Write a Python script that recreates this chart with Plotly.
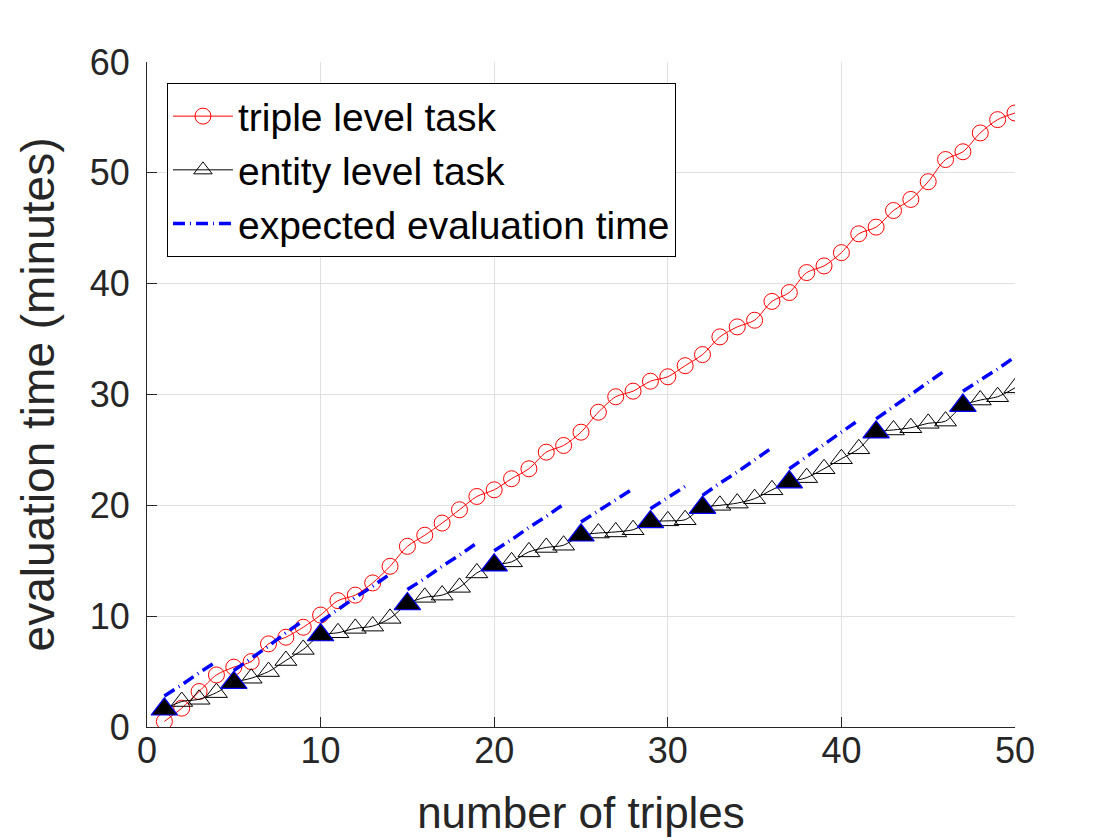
import plotly.graph_objects as go

# ---- data ----
triples = list(range(1, 51))
triple_level = [0.5, 1.7, 3.2, 4.7, 5.4, 5.9, 7.5, 8.1, 9.0, 10.1,
                11.4, 11.9, 13.0, 14.5, 16.3, 17.3, 18.4, 19.6, 20.8, 21.4,
                22.4, 23.3, 24.8, 25.4, 26.6, 28.4, 29.8, 30.3, 31.2, 31.6,
                32.6, 33.6, 35.2, 36.1, 36.7, 38.4, 39.2, 41.0, 41.6, 42.8,
                44.5, 45.1, 46.6, 47.6, 49.2, 51.2, 51.9, 53.6, 54.8, 55.4]
entity_level = [1.6, 2.3, 2.5, 3.1, 4.0, 4.4, 5.0, 6.0, 7.0, 8.3,
                8.5, 8.9, 9.1, 9.8, 11.1, 11.7, 11.9, 12.6, 13.9, 14.6,
                14.9, 15.8, 16.2, 16.4, 17.3, 17.5, 17.6, 17.8, 18.5, 18.6,
                18.7, 19.8, 20.0, 20.2, 20.6, 21.4, 22.1, 22.5, 23.3, 24.2,
                25.1, 26.6, 26.8, 27.0, 27.4, 27.6, 29.0, 29.5, 29.8, 30.6]
group_starts = [1, 5, 10, 15, 20, 25, 29, 32, 37, 42, 47]
expected_segments = [
    [2.8, 3.8, 4.9, 5.9],
    [5.1, 6.2, 7.3, 8.5, 9.6],
    [9.5, 10.6, 11.7, 12.7, 13.8],
    [12.4, 13.4, 14.5, 15.5, 16.6],
    [15.9, 16.9, 18.0, 19.0, 20.1],
    [18.5, 19.5, 20.5, 21.5],
    [19.7, 20.7, 21.7],
    [20.9, 22.0, 23.0, 24.1, 25.2],
    [23.3, 24.4, 25.5, 26.6, 27.7],
    [27.8, 28.9, 30.0, 31.1, 32.2],
    [30.3, 31.3, 32.3, 33.4],
]
x_ticks = [0, 10, 20, 30, 40, 50]
y_ticks = [0, 10, 20, 30, 40, 50, 60]

# build expected line with gaps
exp_x, exp_y = [], []
for s, seg in zip(group_starts, expected_segments):
    for i, v in enumerate(seg):
        exp_x.append(s + i)
        exp_y.append(v)
    exp_x.append(None)
    exp_y.append(None)

filled_y = [entity_level[s - 1] for s in group_starts]

FONT = "Liberation Sans, Arial, Helvetica, sans-serif"
TXT = "#262626"

fig = go.Figure()
fig.add_trace(go.Scatter(
    x=triples, y=triple_level, name="triple level task",
    mode="lines+markers",
    line=dict(color="red", width=1, shape="spline", smoothing=0.8),
    marker=dict(symbol="circle-open", size=16, color="red", line=dict(width=1, color="red")),
))
fig.add_trace(go.Scatter(
    x=triples, y=entity_level, name="entity level task",
    mode="lines+markers",
    line=dict(color="black", width=1, shape="spline", smoothing=0.8),
    marker=dict(symbol="triangle-up-open", size=19, color="black", line=dict(width=1, color="black")),
))
fig.add_trace(go.Scatter(
    x=exp_x, y=exp_y, name="expected evaluation time",
    mode="lines", connectgaps=False,
    line=dict(color="blue", width=3.5, dash="12px,5px,1px,5px"),
))
fig.add_trace(go.Scatter(
    x=group_starts, y=filled_y, mode="markers", showlegend=False,
    marker=dict(symbol="triangle-up", size=23, color="black", line=dict(width=1.2, color="blue")),
))

fig.update_layout(
    width=1120, height=840,
    margin=dict(l=139, r=113, t=54, b=121),
    paper_bgcolor="white", plot_bgcolor="white",
    font=dict(family=FONT, color=TXT, size=36),
    showlegend=True,
    legend=dict(
        x=0.023, y=0.968, xanchor="left", yanchor="top",
        bgcolor="white", bordercolor="black", borderwidth=1,
        font=dict(family=FONT, size=39, color="black"),
        itemwidth=60, tracegroupgap=0,
    ),
    xaxis=dict(
        range=[0, 50], tickvals=x_ticks, ticks="inside", ticklen=10, tickcolor=TXT,
        showline=True, linecolor=TXT, linewidth=1, mirror=False,
        showgrid=True, gridcolor="#e0e0e0", gridwidth=1, zeroline=False,
        tickfont=dict(size=36, color=TXT), ticklabelstandoff=-8,
        title=dict(text="number of triples", font=dict(size=44, color=TXT), standoff=26),
    ),
    yaxis=dict(
        range=[0, 60], tickvals=y_ticks, ticks="inside", ticklen=10, tickcolor=TXT,
        showline=True, linecolor=TXT, linewidth=1, mirror=False,
        showgrid=True, gridcolor="#e0e0e0", gridwidth=1, zeroline=False,
        tickfont=dict(size=36, color=TXT), ticklabelstandoff=9,
        title=dict(text="evaluation time (minutes)", font=dict(size=46, color=TXT), standoff=20),
    ),
)

fig.write_html("out.html")
